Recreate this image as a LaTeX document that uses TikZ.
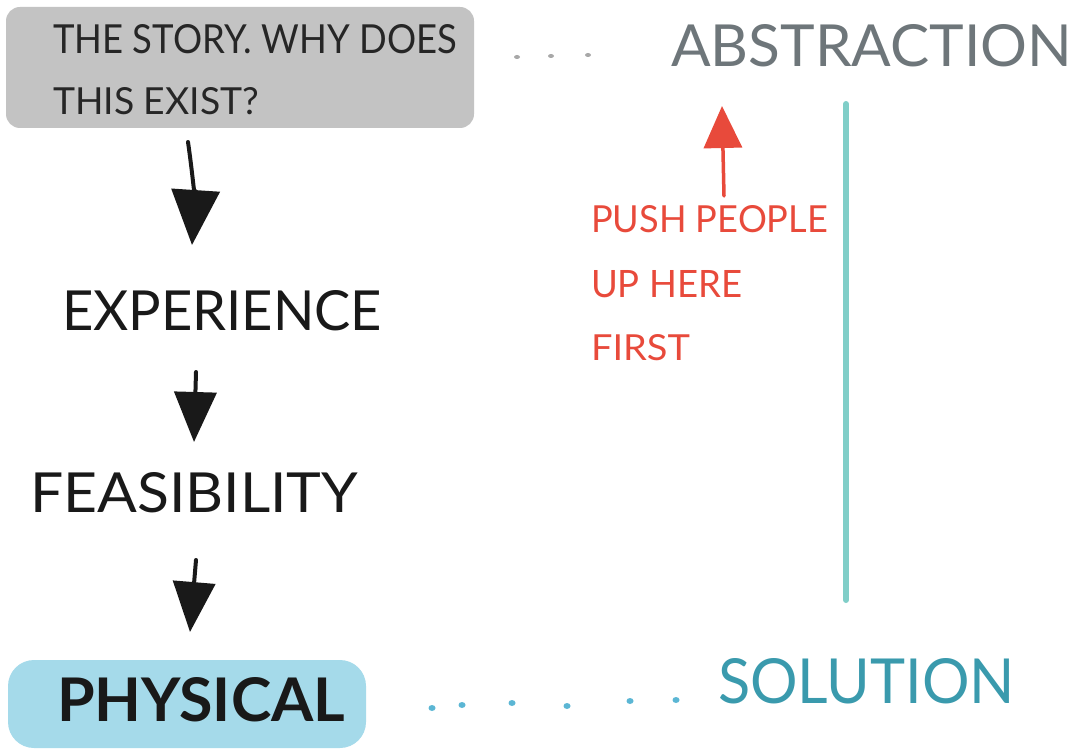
\documentclass[tikz,border=0pt]{standalone}
\usepackage{fontspec}
\setmainfont{Lato}
\usetikzlibrary{arrows.meta}
\definecolor{boxgray}{HTML}{C3C3C3}
\definecolor{boxblue}{HTML}{A5DAEA}
\definecolor{abgray}{HTML}{6E767A}
\definecolor{pushred}{HTML}{E84A3B}
\definecolor{solteal}{HTML}{3A9AAD}
\definecolor{linteal}{HTML}{80CEC8}
\definecolor{dotblue}{HTML}{5BB6D4}
\definecolor{dotgray}{HTML}{A8A8A8}
\newcommand{\fittext}[3]{\resizebox{#1pt}{#2pt}{#3}}
\tikzset{
  txt/.style={inner sep=0pt, outer sep=0pt, anchor=base west},
  blackarrow/.style={draw=black!90, line width=4pt, line cap=round,
    -{Triangle[width=48pt,length=55pt]}},
  smallarrow/.style={draw=black!90, line width=4pt, line cap=round,
    -{Triangle[width=42pt,length=50pt]}},
  redarrow/.style={draw=pushred, line width=3.5pt, line cap=round,
    -{Triangle[width=38pt,length=42pt]}},
  grayblob/.style={fill=boxgray, rounded corners=14pt},
  blueblob/.style={fill=boxblue, rounded corners=26pt},
}
\begin{document}
\begin{tikzpicture}[x=1pt,y=-1pt]
\useasboundingbox (0,0) rectangle (1076,754);
% story box
\path[grayblob] (6,7) rectangle (474,128);
\node[txt, text=black!85] (story1) at (53,54) {\fittext{404}{29}{THE STORY. WHY DOES}};
\node[txt, text=black!85] (story2) at (53,115) {\fittext{206}{27}{THIS EXIST?}};
% gray dots
\foreach \x/\y in {517/57, 551/56, 588/55}
  \fill[dotgray] (\x,\y) ellipse (3pt and 2pt);
\node[txt, text=abgray] (abstraction) at (671,67) {\fittext{401}{42}{ABSTRACTION}};
% black flow
\node[txt, text=black!90] (experience) at (62,330) {\fittext{320}{40}{EXPERIENCE}};
\node[txt, text=black!90] (feasibility) at (30,512) {\fittext{328}{40}{FEASIBILITY}};
\path[blueblob] (8,660) rectangle (366,748);
\node[txt, text=black!90] (physical) at (57,721) {\fittext{288}{44}{\bfseries PHYSICAL}};
\coordinate (a1s) at (188,142);
\coordinate (a1e) at (192,245);
\coordinate (a2s) at (196,372);
\coordinate (a2e) at (194,442);
\coordinate (a3s) at (196,560);
\coordinate (a3e) at (190,632);
\draw[blackarrow] (a1s) to[bend left=6] (a1e);
\draw[smallarrow] (a2s) -- (a2e);
\draw[smallarrow] (a3s) -- (a3e);
% blue dots and solution
\foreach \x/\y in {432/708, 462/705, 512/703, 567/706, 630/701, 676/700}
  \fill[dotblue] (\x,\y) ellipse (3.5pt and 3pt);
\node[txt, text=solteal] (solution) at (718,703) {\fittext{297}{45}{SOLUTION}};
% teal line
\coordinate (ltop) at (846,104);
\coordinate (lbot) at (846,600);
\draw[linteal, line width=6pt, line cap=round] (ltop) -- (lbot);
% red arrow and text
\node[txt, text=pushred] (push1) at (591,233) {\fittext{237}{27}{PUSH PEOPLE}};
\node[txt, text=pushred] (push2) at (591,297) {\fittext{151}{27}{UP HERE}};
\node[txt, text=pushred] (push3) at (591,360) {\fittext{99}{26}{FIRST}};
\coordinate (rs) at (724,196);
\coordinate (re) at (722,106);
\draw[redarrow] (rs) -- (re);
\end{tikzpicture}
\end{document}
